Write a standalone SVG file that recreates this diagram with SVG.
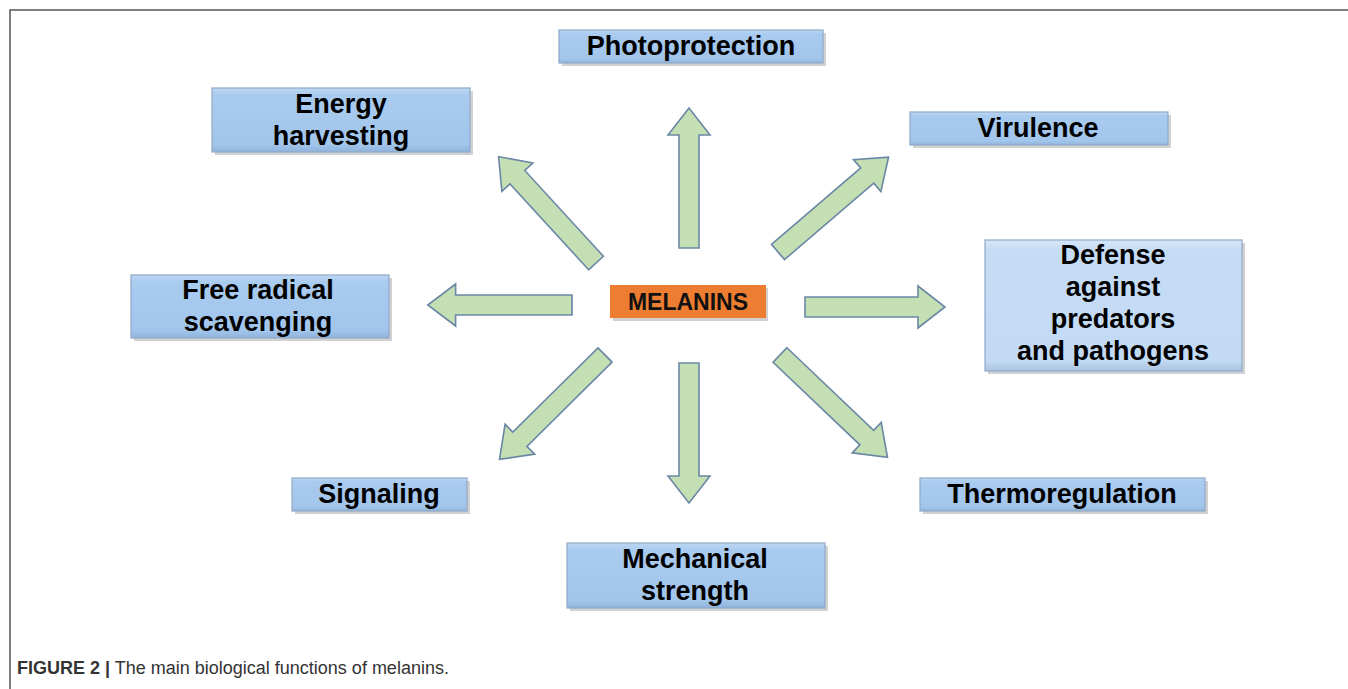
<svg xmlns="http://www.w3.org/2000/svg" width="1348" height="689" viewBox="0 0 1348 689">
<style>
.box{fill:url(#blueGrad);stroke:#8fa9c6;stroke-width:1.2}
.boxL{fill:url(#blueGradL);stroke:#8fa9c6;stroke-width:1.2}
.shadow{fill:#9a9a9a;opacity:0.45}
.lbl{font-family:"Liberation Sans",Arial,sans-serif;font-weight:bold;font-size:27px;fill:#000;text-anchor:middle}
.arrow{fill:#c5dfb5;stroke:#6a88a6;stroke-width:1.6;stroke-linejoin:miter}
.cap{font-family:"Liberation Sans",Arial,sans-serif;font-size:18px;fill:#333}
</style>
<defs>
<linearGradient id="blueGrad" x1="0" y1="0" x2="0" y2="1">
<stop offset="0" stop-color="#bdd7f3"/>
<stop offset="0.12" stop-color="#a9cbef"/>
<stop offset="0.88" stop-color="#a2c5ec"/>
<stop offset="1" stop-color="#8fb3da"/>
</linearGradient>
<linearGradient id="blueGradL" x1="0" y1="0" x2="0" y2="1">
<stop offset="0" stop-color="#d6e6f8"/>
<stop offset="0.08" stop-color="#c6dcf5"/>
<stop offset="0.92" stop-color="#c3daf4"/>
<stop offset="1" stop-color="#a9c3e0"/>
</linearGradient>
<path id="arr" d="M0,-10 L113,-10 L113,-21 L140,0 L113,21 L113,10 L0,10 Z"/>
</defs>
<rect width="1348" height="689" fill="#fff"/>
<!-- frame -->
<path d="M10,689 L10,10 L1348,10" fill="none" stroke="#555" stroke-width="1.5"/>

<g id="connectors">
<use href="#arr" class="arrow" transform="translate(689,248) rotate(-90)"/>
<use href="#arr" class="arrow" transform="translate(689,363) rotate(90)"/>
<use href="#arr" class="arrow" transform="translate(805,307) scale(1,1)"/>
<use href="#arr" class="arrow" transform="translate(572,305) rotate(180) scale(1.03,1)"/>
<use href="#arr" class="arrow" transform="translate(596,263) rotate(-132.5) scale(1.03,1)"/>
<use href="#arr" class="arrow" transform="translate(778,252) rotate(-40.6) scale(1.04,1)"/>
<use href="#arr" class="arrow" transform="translate(605,355) rotate(135.3) scale(1.06,1)"/>
<use href="#arr" class="arrow" transform="translate(780,355) rotate(43.6) scale(1.06,1)"/>
</g>

<g id="melanins">
<rect x="613" y="288" width="155" height="33" class="shadow"/>
<rect x="610" y="285" width="156" height="33" fill="#ed7d31"/>
<text x="688" y="310" font-family="'Liberation Sans',Arial,sans-serif" font-weight="bold" font-size="23" text-anchor="middle" fill="#111">MELANINS</text>
</g>

<g id="photoprotection">
<rect x="562" y="33" width="264" height="33" class="shadow"/>
<rect x="559" y="30" width="264" height="33" class="box"/>
<text x="691" y="55" class="lbl">Photoprotection</text>
</g>

<g id="energy">
<rect x="215" y="91" width="258" height="64" class="shadow"/>
<rect x="212" y="88" width="258" height="64" class="box"/>
<text x="341" y="113" class="lbl">Energy</text>
<text x="341" y="145" class="lbl">harvesting</text>
</g>

<g id="virulence">
<rect x="913" y="115" width="258" height="33" class="shadow"/>
<rect x="910" y="112" width="258" height="33" class="box"/>
<text x="1038" y="137" class="lbl">Virulence</text>
</g>

<g id="defense">
<rect x="988" y="243" width="257" height="131" class="shadow"/>
<rect x="985" y="240" width="257" height="131" class="boxL"/>
<text x="1113" y="264" class="lbl">Defense</text>
<text x="1113" y="296" class="lbl">against</text>
<text x="1113" y="328" class="lbl">predators</text>
<text x="1113" y="360" class="lbl">and pathogens</text>
</g>

<g id="freeradical">
<rect x="134" y="278" width="258" height="63" class="shadow"/>
<rect x="131" y="275" width="258" height="63" class="box"/>
<text x="258" y="299" class="lbl">Free radical</text>
<text x="258" y="331" class="lbl">scavenging</text>
</g>

<g id="signaling">
<rect x="295" y="481" width="175" height="33" class="shadow"/>
<rect x="292" y="478" width="175" height="33" class="box"/>
<text x="379" y="503" class="lbl">Signaling</text>
</g>

<g id="thermoregulation">
<rect x="923" y="481" width="285" height="33" class="shadow"/>
<rect x="920" y="478" width="285" height="33" class="box"/>
<text x="1062" y="503" class="lbl">Thermoregulation</text>
</g>

<g id="mechanical">
<rect x="570" y="546" width="258" height="65" class="shadow"/>
<rect x="567" y="543" width="258" height="65" class="box"/>
<text x="695" y="568" class="lbl">Mechanical</text>
<text x="695" y="600" class="lbl">strength</text>
</g>

<g id="caption">
<text x="17" y="674" class="cap"><tspan font-weight="bold">FIGURE 2 |</tspan> The main biological functions of melanins.</text>
</g>
</svg>
